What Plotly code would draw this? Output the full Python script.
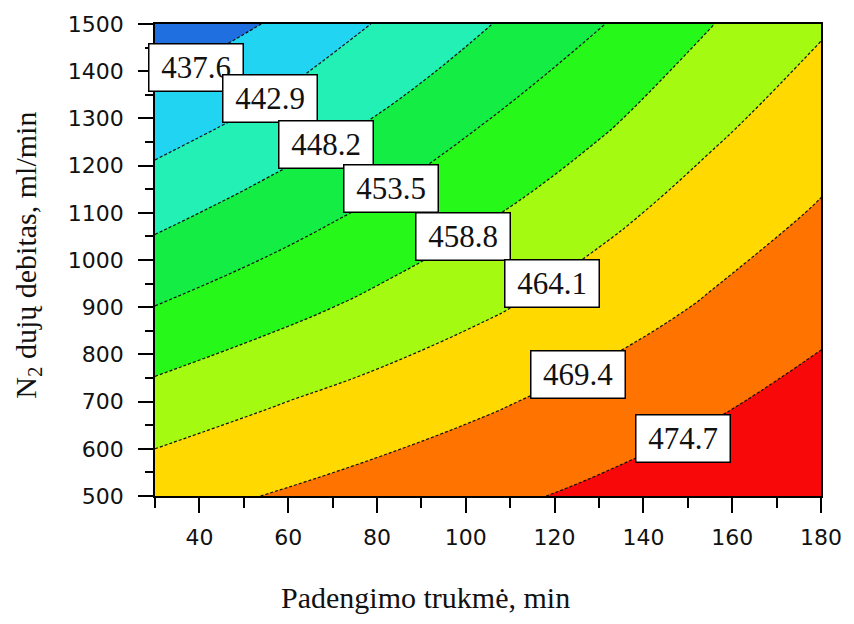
import plotly.graph_objects as go

# Coating duration (min) and N2 gas flow rate (ml/min) grid
duration_min = [30, 55, 80, 105, 130, 155, 180]
n2_flow = [500, 700, 900, 1100, 1300, 1500]

# Response surface values; rows follow n2_flow, columns follow duration_min
response = [
    [467.5, 469.5, 471.6, 473.6, 475.7, 477.7, 479.8],
    [460.7, 463.6, 466.2, 468.7, 471.3, 473.9, 476.5],
    [453.6, 456.8, 460.1, 463.4, 466.7, 470.0, 473.2],
    [446.6, 450.6, 454.4, 458.3, 462.6, 466.4, 469.9],
    [440.0, 444.0, 448.4, 453.4, 457.7, 462.8, 466.8],
    [433.0, 437.8, 443.2, 448.0, 453.2, 458.6, 463.5],
]

# Contour levels shown with labels
levels = [437.6, 442.9, 448.2, 453.5, 458.8, 464.1, 469.4, 474.7]

# Label anchor points (duration, flow) for each level
label_x = [39.3, 56.0, 68.5, 83.2, 99.4, 119.5, 125.3, 148.9]
label_y = [1408, 1342, 1244, 1152, 1049, 950, 757, 622]

# Band colours, lowest band first
band_colors = ["#1F6FE0", "#20D4F2", "#22F0B4", "#14EE44", "#26F81A",
               "#A4FA10", "#FFD900", "#FF7300", "#F80808"]

x_ticks = [40, 60, 80, 100, 120, 140, 160, 180]
y_ticks = [500, 600, 700, 800, 900, 1000, 1100, 1200, 1300, 1400, 1500]

n_bands = len(band_colors) - 1
colorscale = [[i / n_bands, c] for i, c in enumerate(band_colors)]
step = round(levels[1] - levels[0], 1)

fig = go.Figure()
fig.add_trace(go.Contour(
    x=duration_min,
    y=n2_flow,
    z=response,
    autocontour=False,
    contours=dict(start=levels[0], end=levels[-1], size=step,
                  coloring="fill", showlabels=False),
    colorscale=colorscale,
    showscale=False,
    line=dict(color="#111111", width=1.2, dash="3px,2px", smoothing=1.3),
    hoverinfo="skip",
))

for lv, lx, ly in zip(levels, label_x, label_y):
    fig.add_annotation(
        x=lx, y=ly, xref="x", yref="y",
        text=f"{lv:.1f}", showarrow=False,
        font=dict(family="Liberation Serif", size=31, color="#111111"),
        bgcolor="white", bordercolor="black", borderwidth=1.5,
        width=93, height=46, borderpad=0,
    )

tick_font = dict(family="DejaVu Sans", size=22, color="#111111")
title_font = dict(family="Liberation Serif", size=30, color="#111111")

fig.add_annotation(
    x=0.406, y=-0.215, xref="paper", yref="paper",
    text="Padengimo trukmė, min", showarrow=False,
    font=title_font, xanchor="center", yanchor="middle",
)
fig.add_annotation(
    x=-0.19, y=0.51, xref="paper", yref="paper",
    text="N<sub>2</sub> dujų debitas, ml/min", showarrow=False,
    font=title_font, textangle=-90, xanchor="center", yanchor="middle",
)

fig.update_xaxes(
    range=[30, 180], tickvals=x_ticks, ticktext=[str(v) for v in x_ticks],
    ticks="outside", ticklen=15, tickwidth=1.5, tickcolor="black",
    minor=dict(dtick=10, tick0=30, ticks="outside", ticklen=10,
               tickwidth=1.5, tickcolor="black"),
    showline=True, linecolor="black", linewidth=1.5, mirror=True,
    showgrid=False, zeroline=False, tickfont=tick_font,
    ticklabelstandoff=6,
)
fig.update_yaxes(
    range=[500, 1500], tickvals=y_ticks, ticktext=[str(v) for v in y_ticks],
    ticks="outside", ticklen=15, tickwidth=1.5, tickcolor="black",
    minor=dict(dtick=50, tick0=500, ticks="outside", ticklen=8,
               tickwidth=1.5, tickcolor="black"),
    showline=True, linecolor="black", linewidth=1.5, mirror=True,
    showgrid=False, zeroline=False, tickfont=tick_font,
    ticklabelstandoff=10,
)

fig.update_layout(
    width=854, height=624, autosize=False,
    margin=dict(l=155, r=27, t=21, b=128),
    paper_bgcolor="white", plot_bgcolor="white",
    showlegend=False,
)

fig.write_html("out.html")
